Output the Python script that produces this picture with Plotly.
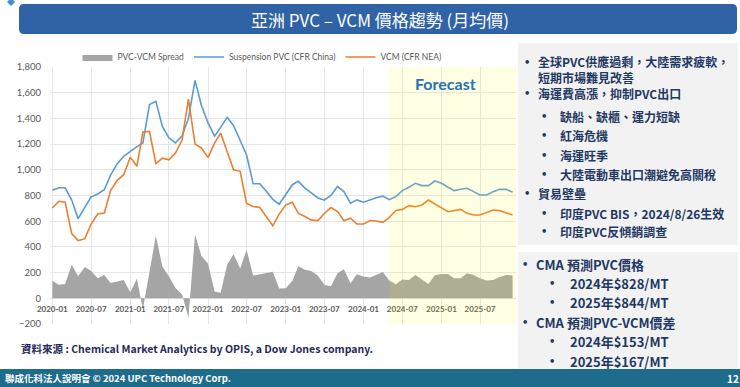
import plotly.graph_objects as go
import pandas as pd

# ---------------- data ----------------
months = pd.date_range("2020-01-01", "2025-12-01", freq="MS")

pvc_china = [840, 860, 860, 765, 620, 705, 790, 812, 845, 960, 1048, 1105,
             1145, 1180, 1208, 1507, 1533, 1335, 1250, 1210, 1262, 1400, 1696, 1500,
             1365, 1262, 1330, 1408, 1343, 1220, 1115, 891, 891, 835, 770, 732,
             806, 884, 910, 858, 820, 781, 765, 800, 870, 830, 740, 766,
             748, 767, 783, 795, 768, 792, 838, 864, 895, 877, 877, 913,
             895, 864, 838, 848, 856, 830, 804, 804, 830, 848, 848, 825]

vcm_nea = [703, 755, 748, 503, 449, 462, 578, 656, 664, 840, 918, 962,
           1097, 1027, 1294, 1299, 1048, 1090, 1078, 1130, 1232, 1550, 1200, 1170,
           1095, 1210, 1286, 1144, 1000, 988, 738, 714, 706, 637, 564, 655,
           727, 747, 661, 636, 608, 605, 660, 706, 675, 604, 623, 578,
           578, 605, 602, 591, 630, 683, 692, 721, 713, 726, 765, 734,
           705, 674, 682, 692, 661, 648, 648, 666, 687, 682, 666, 648]

spread = [137, 105, 112, 262, 171, 243, 212, 156, 181, 120, 130, 143,
          48, 153, -86, 208, 485, 245, 172, 80, 30, -150, 496, 330,
          270, 52, 44, 264, 343, 232, 377, 177, 185, 198, 206, 77,
          79, 137, 249, 222, 212, 176, 105, 94, 195, 226, 117, 188,
          170, 162, 181, 204, 138, 109, 146, 143, 182, 151, 112, 179,
          190, 190, 156, 156, 195, 182, 156, 138, 143, 166, 182, 177]

series_names = ["PVC-VCM Spread", "Suspension PVC (CFR China)", "VCM (CFR NEA)"]
forecast_start = "2024-05-01"

title_text = "亞洲 PVC – VCM 價格趨勢 (月均價)"
box1_lines = [
    (0, "全球PVC供應過剩，大陸需求疲軟，<br>短期市場難見改善"),
    (0, "海運費高漲，抑制PVC出口"),
    (1, "缺船、缺櫃、運力短缺"),
    (1, "紅海危機"),
    (1, "海運旺季"),
    (1, "大陸電動車出口潮避免高關稅"),
    (0, "貿易壁壘"),
    (1, "印度PVC BIS，2024/8/26生效"),
    (1, "印度PVC反傾銷調查"),
]
box2_lines = [
    (0, "CMA 預測PVC價格"),
    (1, "2024年$828/MT"),
    (1, "2025年$844/MT"),
    (0, "CMA 預測PVC-VCM價差"),
    (1, "2024年$153/MT"),
    (1, "2025年$167/MT"),
]
source_text = "資料來源 : Chemical Market Analytics by OPIS, a Dow Jones company."
footer_text = "聯成化科法人說明會 © 2024 UPC Technology Corp."

# ---------------- layout helpers (pixel -> paper) ----------------
W, H = 740, 387
ML, MR, MT, MB = 50, 224, 67, 63
PW, PH = W - ML - MR, H - MT - MB


def PX(x):
    return (x - ML) / PW


def PY(y):
    return (H - MB - y) / PH


CJK = "Noto Sans CJK TC"
NAVY = "#1F3864"

fig = go.Figure()

fig.add_trace(go.Scatter(
    x=months, y=spread, name=series_names[0], mode="lines",
    fill="tozeroy", fillcolor="#A5A5A5", line=dict(width=0, color="#A5A5A5"),
))
fig.add_trace(go.Scatter(
    x=months, y=pvc_china, name=series_names[1], mode="lines",
    line=dict(width=1.6, color="#5B9BD5"),
))
fig.add_trace(go.Scatter(
    x=months, y=vcm_nea, name=series_names[2], mode="lines",
    line=dict(width=1.6, color="#ED7D31"),
))

shapes = []
shapes.append(dict(type="rect", xref="x", yref="y", x0=forecast_start, x1="2025-12-17",
                   y0=-200, y1=1800, fillcolor="rgba(255,255,0,0.11)",
                   line=dict(width=0), layer="above"))


def rrect(x0, y0, x1, y1, r, color):
    def p(x, y):
        return f"{PX(x):.5f},{PY(y):.5f}"
    path = (f"M {p(x0 + r, y0)} L {p(x1 - r, y0)} Q {p(x1, y0)} {p(x1, y0 + r)} "
            f"L {p(x1, y1 - r)} Q {p(x1, y1)} {p(x1 - r, y1)} L {p(x0 + r, y1)} "
            f"Q {p(x0, y1)} {p(x0, y1 - r)} L {p(x0, y0 + r)} Q {p(x0, y0)} {p(x0 + r, y0)} Z")
    return dict(type="path", xref="paper", yref="paper", path=path,
                fillcolor=color, line=dict(width=0), layer="below")


def prect(x0, y0, x1, y1, color, layer="below"):
    return dict(type="rect", xref="paper", yref="paper", x0=PX(x0), x1=PX(x1),
                y0=PY(y1), y1=PY(y0), fillcolor=color, line=dict(width=0), layer=layer)


shapes.append(rrect(19, 4, 737, 34, 5, "#2F63A6"))
shapes.append(dict(type="path", xref="paper", yref="paper",
                   path=f"M {PX(11)},{PY(-2)} L {PX(15)},{PY(2)} L {PX(11)},{PY(6)} L {PX(7)},{PY(2)} Z",
                   fillcolor="#3D8FD6", line=dict(width=0)))
shapes.append(prect(518, 43, 738, 245, "#F2F2F2"))
shapes.append(prect(518, 252, 738, 369, "#F2F2F2"))
shapes.append(prect(0, 369, 740, 387, "#1E6C8C", layer="above"))

annotations = []
annotations.append(dict(xref="paper", yref="paper", x=PX(380), y=PY(19), text=title_text,
                        showarrow=False, xanchor="center", yanchor="middle",
                        font=dict(family=CJK, size=17, color="white")))
annotations.append(dict(xref="x", yref="paper", x="2025-01-22", y=PY(83), text="Forecast",
                        showarrow=False, xanchor="center", yanchor="middle",
                        font=dict(family="Lato", size=16, color="#2672B8", weight="bold")))

# box 1
ys1 = [62.5, 94, 116, 135, 155, 174, 193.5, 213, 232]
for (lvl, txt), yy in zip(box1_lines, ys1):
    if lvl == 0:
        bx, tx = 526.5, 536
    else:
        bx, tx = 544, 558
    annotations.append(dict(xref="paper", yref="paper", x=PX(bx), y=PY(yy), text="<b>•</b>",
                            showarrow=False, xanchor="center", yanchor="middle",
                            font=dict(family="DejaVu Sans", size=10, color=NAVY)))
    two = "<br>" in txt
    annotations.append(dict(xref="paper", yref="paper", x=PX(tx), y=PY(yy + 7 if two else yy),
                            text=f"<b>{txt}</b>", align="left",
                            showarrow=False, xanchor="left", yanchor="middle",
                            font=dict(family=CJK, size=12, color=NAVY)))

# box 2
ys2 = [264, 283, 302, 322, 341.5, 361]
for (lvl, txt), yy in zip(box2_lines, ys2):
    if lvl == 0:
        bx, tx = 525, 534
    else:
        bx, tx = 552, 568
    annotations.append(dict(xref="paper", yref="paper", x=PX(bx), y=PY(yy), text="<b>•</b>",
                            showarrow=False, xanchor="center", yanchor="middle",
                            font=dict(family="DejaVu Sans", size=10, color=NAVY)))
    annotations.append(dict(xref="paper", yref="paper", x=PX(tx), y=PY(yy), text=f"<b>{txt}</b>",
                            showarrow=False, xanchor="left", yanchor="middle",
                            font=dict(family=CJK, size=13, color=NAVY)))

annotations.append(dict(xref="paper", yref="paper", x=PX(19), y=PY(348), text=f"<b>{source_text}</b>",
                        showarrow=False, xanchor="left", yanchor="middle",
                        font=dict(family=CJK, size=10.5, color="#1F2A5A")))
annotations.append(dict(xref="paper", yref="paper", x=PX(3), y=PY(378), text=f"<b>{footer_text}</b>",
                        showarrow=False, xanchor="left", yanchor="middle",
                        font=dict(family=CJK, size=9.5, color="white")))
annotations.append(dict(xref="paper", yref="paper", x=PX(725), y=PY(378), text="<b>12</b>",
                        showarrow=False, xanchor="left", yanchor="middle",
                        font=dict(family=CJK, size=10, color="white")))

fig.update_layout(
    width=W, height=H, autosize=False,
    margin=dict(l=ML, r=MR, t=MT, b=MB),
    paper_bgcolor="white", plot_bgcolor="white",
    shapes=shapes, annotations=annotations,
    showlegend=True,
    legend=dict(orientation="h", x=PX(262), y=PY(57), xanchor="center", yanchor="middle",
                font=dict(family="Lato", size=8.5, color="#595959"),
                bgcolor="rgba(0,0,0,0)", itemwidth=30, tracegroupgap=0),
    xaxis=dict(type="date", range=["2019-12-21", "2025-12-17"],
               tick0="2020-01-01", dtick="M6", tickformat="%Y-%m",
               showgrid=True, gridcolor="#E6E6E6", gridwidth=1,
               anchor="free", position=0.1, showline=False, zeroline=False,
               ticks="", ticklabelstandoff=5,
               tickfont=dict(family="Lato", size=8, color="#595959", weight="bold")),
    yaxis=dict(range=[-200, 1800], dtick=200, tick0=0, tickformat=",d",
               showgrid=True, gridcolor="#E6E6E6", gridwidth=1,
               zeroline=False, showline=False, ticks="", ticklabelstandoff=8,
               tickfont=dict(family="Lato", size=9.5, color="#595959")),
)

fig.write_html("out.html", config={"displayModeBar": False},
               post_script="document.body.style.margin='0';document.body.style.overflow='hidden';")
